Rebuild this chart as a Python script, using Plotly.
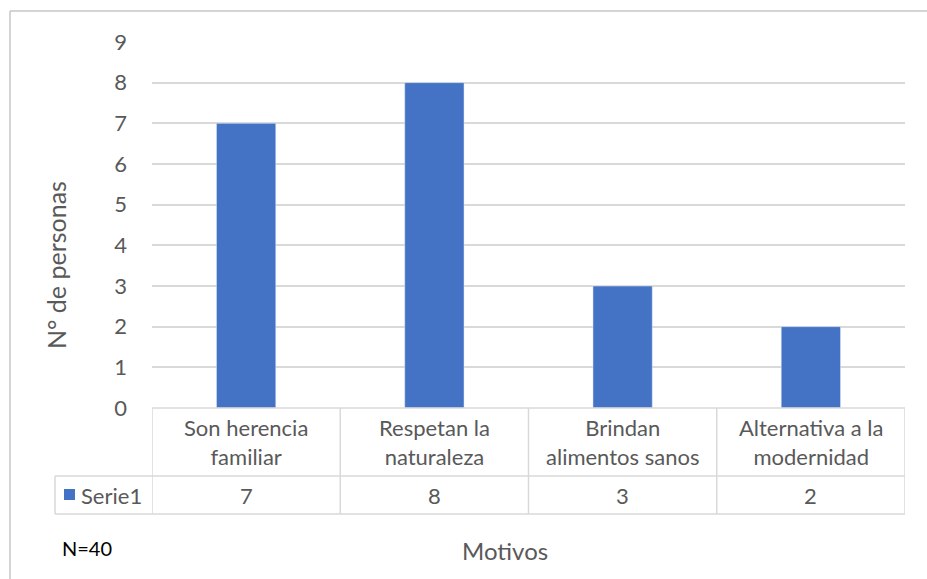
import plotly.graph_objects as go

categories = ["Son herencia<br>familiar", "Respetan la<br>naturaleza", "Brindan<br>alimentos sanos", "Alternativa a la<br>modernidad"]
values = [7, 8, 3, 2]
series_name = "Serie1"
y_ticks = list(range(0, 10))

W, H = 927, 579
L, R, T, B = 152, 22, 42, 171
pw, ph = W - L - R, H - T - B

def px(x):
    return (x - L) / pw

def py(y):
    return (H - B - y) / ph

FONT = "Lato"
TXT = "#595959"
GRID = "#d9d9d9"
BLUE = "#4472C4"
FS = 22

xs = list(range(len(categories)))
fig = go.Figure(go.Bar(x=xs, y=values, marker_color=BLUE, width=0.315, name=series_name))

shapes = []
line = dict(color=GRID, width=1.5)
for yy in [476, 514]:
    shapes.append(dict(type="line", xref="paper", yref="paper", x0=px(55), x1=1, y0=py(yy), y1=py(yy), line=line))
shapes.append(dict(type="line", xref="paper", yref="paper", x0=0, x1=1, y0=0, y1=0, line=line))
for b in [i - 0.5 for i in range(len(categories) + 1)]:
    shapes.append(dict(type="line", xref="x", yref="paper", x0=b, x1=b, y0=0, y1=py(514), line=line))
shapes.append(dict(type="line", xref="paper", yref="paper", x0=px(55), x1=px(55), y0=py(476), y1=py(514), line=line))
shapes.append(dict(type="rect", xref="paper", yref="paper", x0=px(64), x1=px(75), y0=py(489), y1=py(500),
                   fillcolor=BLUE, line=dict(width=0)))
border = dict(color="#c6c6c6", width=1.5)
shapes.append(dict(type="line", xref="paper", yref="paper", x0=px(10), x1=px(10), y0=py(11), y1=py(580), line=border))
shapes.append(dict(type="line", xref="paper", yref="paper", x0=px(10), x1=px(928), y0=py(11), y1=py(11), line=border))

ann = []
for i, c in enumerate(categories):
    ann.append(dict(x=i, y=py(442), xref="x", yref="paper", text=c, showarrow=False,
                    font=dict(family=FONT, size=FS, color=TXT), yanchor="middle"))
    ann.append(dict(x=i, y=py(495), xref="x", yref="paper", text=str(values[i]), showarrow=False,
                    font=dict(family=FONT, size=FS, color=TXT), yanchor="middle"))
ann.append(dict(x=px(79), y=py(495), xref="paper", yref="paper", text=series_name, showarrow=False,
                xanchor="left", font=dict(family=FONT, size=FS, color=TXT), yanchor="middle"))
ann.append(dict(x=px(505), y=py(550), xref="paper", yref="paper", text="Motivos", showarrow=False,
                font=dict(family=FONT, size=24, color=TXT), yanchor="middle"))
ann.append(dict(x=px(60), y=py(548), xref="paper", yref="paper", text="N=40", showarrow=False,
                xanchor="left", font=dict(family=FONT, size=20, color="#000000"), yanchor="middle"))
ann.append(dict(x=px(56), y=py(265), xref="paper", yref="paper", text="N° de personas", showarrow=False,
                textangle=-90, font=dict(family=FONT, size=25, color=TXT), xanchor="center", yanchor="middle"))

fig.update_layout(
    width=W, height=H, margin=dict(l=L, r=R, t=T, b=B),
    plot_bgcolor="white", paper_bgcolor="white", showlegend=False,
    shapes=shapes, annotations=ann,
    xaxis=dict(range=[-0.5, len(categories) - 0.5], showticklabels=False, showgrid=False, zeroline=False, fixedrange=True),
    yaxis=dict(range=[0, 9], tickvals=y_ticks, showgrid=True, gridcolor=GRID, gridwidth=1.5, zeroline=False,
               tickfont=dict(family=FONT, size=FS, color=TXT), ticks="", ticklabelstandoff=24),
)

fig.write_html("out.html")
